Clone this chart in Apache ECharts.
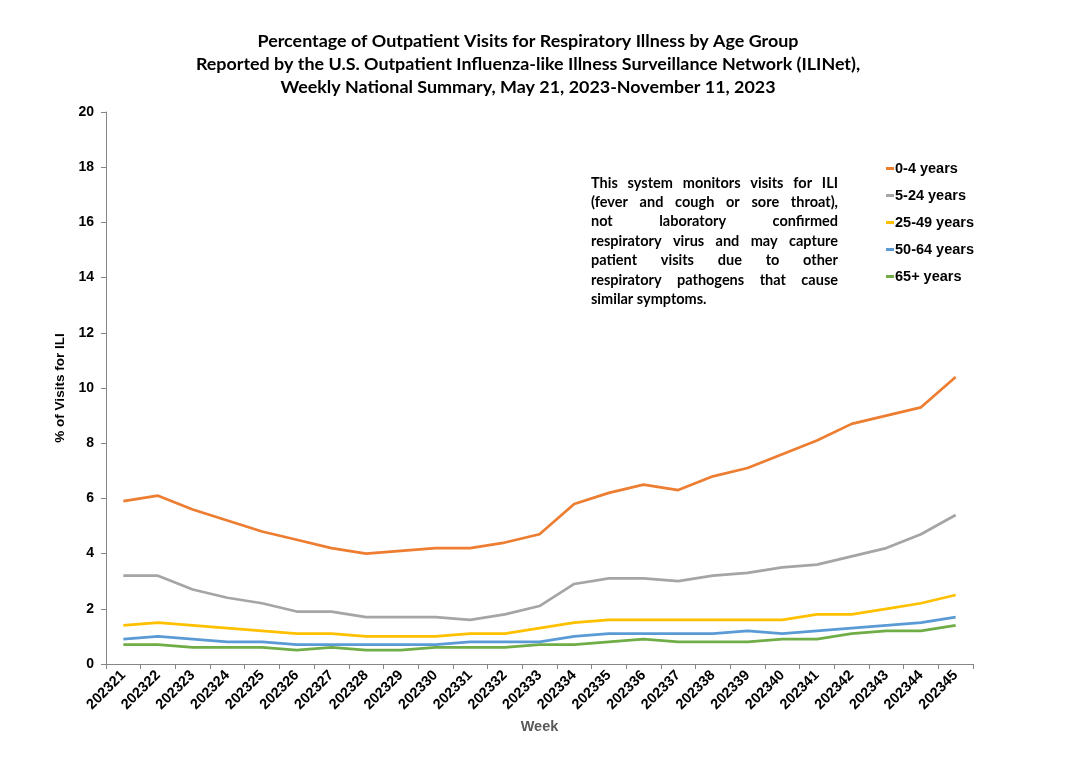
<!DOCTYPE html>
<html><head><meta charset="utf-8">
<script src="https://cdn.jsdelivr.net/npm/echarts@6/dist/echarts.min.js"></script>
<style>html,body{margin:0;padding:0;background:#fff}#c{width:1080px;height:775px}</style>
</head><body><div id="c"></div>
<script>
const weeks = ['202321','202322','202323','202324','202325','202326','202327','202328','202329','202330','202331','202332','202333','202334','202335','202336','202337','202338','202339','202340','202341','202342','202343','202344','202345'];
const age0_4   = [5.9,6.1,5.6,5.2,4.8,4.5,4.2,4.0,4.1,4.2,4.2,4.4,4.7,5.8,6.2,6.5,6.3,6.8,7.1,7.6,8.1,8.7,9.0,9.3,10.4];
const age5_24  = [3.2,3.2,2.7,2.4,2.2,1.9,1.9,1.7,1.7,1.7,1.6,1.8,2.1,2.9,3.1,3.1,3.0,3.2,3.3,3.5,3.6,3.9,4.2,4.7,5.4];
const age25_49 = [1.4,1.5,1.4,1.3,1.2,1.1,1.1,1.0,1.0,1.0,1.1,1.1,1.3,1.5,1.6,1.6,1.6,1.6,1.6,1.6,1.8,1.8,2.0,2.2,2.5];
const age50_64 = [0.9,1.0,0.9,0.8,0.8,0.7,0.7,0.7,0.7,0.7,0.8,0.8,0.8,1.0,1.1,1.1,1.1,1.1,1.2,1.1,1.2,1.3,1.4,1.5,1.7];
const age65    = [0.7,0.7,0.6,0.6,0.6,0.5,0.6,0.5,0.5,0.6,0.6,0.6,0.7,0.7,0.8,0.9,0.8,0.8,0.8,0.9,0.9,1.1,1.2,1.2,1.4];
const seriesNames = ['0-4 years','5-24 years','25-49 years','50-64 years','65+ years'];
const colors = ['#ED7D31','#A5A5A5','#FFC000','#5B9BD5','#70AD47'];
const titleLines = ['Percentage of Outpatient Visits for Respiratory Illness by Age Group','Reported by the U.S. Outpatient Influenza-like Illness Surveillance Network (ILINet),','Weekly National Summary, May 21, 2023-November 11, 2023'];
const noteLines = ['This system monitors visits for ILI','(fever and cough or sore throat),','not laboratory confirmed','respiratory virus and may capture','patient visits due to other','respiratory pathogens that cause','similar symptoms.'];

const chart = echarts.init(document.getElementById('c'));

// justified note text
const noteFont = 'bold 14.5px Lato';
const ctx = document.createElement('canvas').getContext('2d');
ctx.font = noteFont;
const noteX = 591, noteW = 247, noteY = 183, noteLH = 19.4;
const noteEls = [];
noteLines.forEach((ln, i) => {
  const words = ln.split(' ');
  const y = noteY + i * noteLH;
  if (i === noteLines.length - 1 || words.length === 1) {
    noteEls.push({type:'text', x: noteX, y: y, style:{text: ln, font: noteFont, fill:'#000', textVerticalAlign:'middle'}});
    return;
  }
  const widths = words.map(w => ctx.measureText(w).width);
  const total = widths.reduce((a,b)=>a+b,0);
  const gap = (noteW - total) / (words.length - 1);
  let x = noteX;
  words.forEach((w, j) => {
    noteEls.push({type:'text', x: x, y: y, style:{text: w, font: noteFont, fill:'#000', textVerticalAlign:'middle'}});
    x += widths[j] + gap;
  });
});

const titleEls = titleLines.map((t, i) => ({
  type:'text', x: 528, y: 41 + i * 23,
  style:{text: t, font: 'bold 17.9px Lato', fill:'#000', textAlign:'center', textVerticalAlign:'middle'}
}));

const data = [age0_4, age5_24, age25_49, age50_64, age65];

chart.setOption({
  animation: false,
  backgroundColor: '#fff',
  grid: {left: 106, right: 107, top: 112, bottom: 111, containLabel: false},
  legend: {
    orient: 'vertical', left: 881, top: 156,
    itemWidth: 8, itemHeight: 3, itemGap: 12,
    icon: 'rect',
    textStyle: {fontFamily: 'Liberation Sans', fontWeight: 'bold', fontSize: 14.5, color: '#000', padding: [0,0,0,-4]},
    data: seriesNames
  },
  xAxis: {
    type: 'category', data: weeks, boundaryGap: true,
    name: 'Week', nameLocation: 'middle', nameGap: 55,
    nameTextStyle: {fontFamily: 'Liberation Sans', fontWeight: 'bold', fontSize: 14.5, color: '#595959'},
    axisLine: {lineStyle: {color: '#868686', width: 1}},
    axisTick: {show: true, length: 5, lineStyle: {color: '#868686'}},
    axisLabel: {rotate: 45, interval: 0, fontFamily: 'Liberation Sans', fontWeight: 'bold', fontSize: 14.5, color: '#000', margin: 9}
  },
  yAxis: {
    type: 'value', min: 0, max: 20, interval: 2,
    name: '% of Visits for ILI', nameLocation: 'middle', nameGap: 22,
    nameTextStyle: {fontFamily: 'Liberation Sans', fontWeight: 'bold', fontSize: 13.5, color: '#000'},
    axisLine: {show: true, lineStyle: {color: '#868686', width: 1}},
    axisTick: {show: true, length: 5, lineStyle: {color: '#868686'}},
    splitLine: {show: false},
    axisLabel: {fontFamily: 'Liberation Sans', fontWeight: 'bold', fontSize: 14, color: '#000', margin: 12}
  },
  series: data.map((d, i) => ({
    name: seriesNames[i], type: 'line', data: d, symbol: 'none',
    lineStyle: {width: 2.7, color: colors[i]}, itemStyle: {color: colors[i]}, z: 10 - i
  })),
  graphic: titleEls.concat(noteEls)
});
</script></body></html>
